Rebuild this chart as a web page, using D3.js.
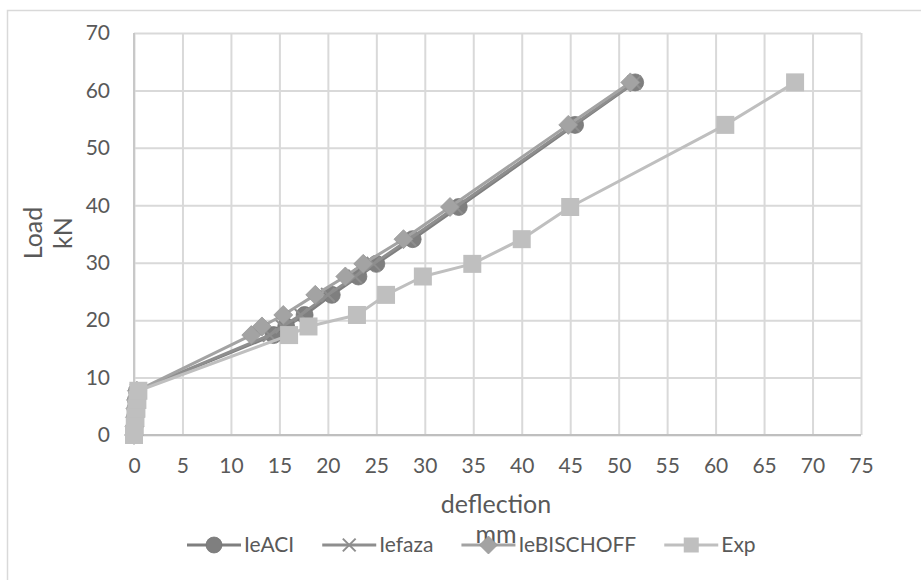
<!DOCTYPE html>
<html>
<head>
<meta charset="utf-8">
<script src="https://cdn.jsdelivr.net/npm/d3@7"></script>
<style>
  html, body { margin: 0; padding: 0; background: #ffffff; }
  svg { display: block; }
  text { font-family: Lato, "Open Sans", sans-serif; fill: #595959; }
</style>
</head>
<body>
<svg id="chart" width="921" height="580"></svg>
<script>
// Load steps (kN) shared by every series
const loads = [0, 1.5, 3.1, 4.6, 6.1, 7.7, 17.4, 18.9, 20.9, 24.4, 27.6, 29.8, 34.1, 39.7, 54.0, 61.4];

// Mid-span deflection (mm) for each method
const deflACI      = [0, 0.05, 0.1, 0.15, 0.2, 0.3, 14.4, 15.7, 17.6, 20.4, 23.15, 25.0, 28.75, 33.5, 45.5, 51.7];
const deflFaza     = [0, 0.05, 0.1, 0.15, 0.2, 0.3, 14.0, 15.3, 17.2, 20.0, 22.8, 24.7, 28.4, 33.2, 45.3, 51.6];
const deflBischoff = [0, 0.05, 0.1, 0.15, 0.2, 0.3, 12.1, 13.2, 15.4, 18.7, 21.8, 23.65, 27.8, 32.6, 44.8, 51.2];
const deflExp      = [0, 0.08, 0.15, 0.25, 0.35, 0.45, 16.0, 18.0, 23.0, 26.0, 29.8, 34.9, 40.0, 45.0, 61.0, 68.2];

const seriesNames = ["IeACI", "Iefaza", "IeBISCHOFF", "Exp"];
const xTickValues = [0, 5, 10, 15, 20, 25, 30, 35, 40, 45, 50, 55, 60, 65, 70, 75];
const yTickValues = [0, 10, 20, 30, 40, 50, 60, 70];

const series = [
  { name: seriesNames[0], x: deflACI,      color: "#7f7f7f", marker: "circle" },
  { name: seriesNames[1], x: deflFaza,     color: "#8e8e8e", marker: "cross" },
  { name: seriesNames[2], x: deflBischoff, color: "#a3a3a3", marker: "diamond" },
  { name: seriesNames[3], x: deflExp,      color: "#bfbfbf", marker: "square" }
];

const svg = d3.select("#chart");
const plot = { left: 134, right: 861, top: 33, bottom: 435 };

const x = d3.scaleLinear().domain([0, 75]).range([plot.left, plot.right]);
const y = d3.scaleLinear().domain([0, 70]).range([plot.bottom, plot.top]);

// chart frame
svg.append("rect")
  .attr("x", 7.5).attr("y", 10.5)
  .attr("width", 1000).attr("height", 1000)
  .attr("fill", "none").attr("stroke", "#d9d9d9").attr("stroke-width", 1.5);

// gridlines + tick labels
const gx = svg.append("g")
  .attr("transform", `translate(0,${plot.bottom})`)
  .call(d3.axisBottom(x).tickValues(xTickValues).tickFormat(d3.format("d"))
        .tickSize(-(plot.bottom - plot.top)).tickPadding(23));
const gy = svg.append("g")
  .attr("transform", `translate(${plot.left},0)`)
  .call(d3.axisLeft(y).tickValues(yTickValues).tickFormat(d3.format("d"))
        .tickSize(-(plot.right - plot.left)).tickPadding(24));

[gx, gy].forEach(g => {
  g.select(".domain").remove();
  g.selectAll(".tick line").attr("stroke", "#d9d9d9").attr("stroke-width", 2);
  g.selectAll(".tick text")
    .style("font-family", "Lato, 'Open Sans', sans-serif")
    .style("font-size", "21px").attr("fill", "#595959");
});

// axis lines
svg.append("line")
  .attr("x1", plot.left).attr("x2", plot.left)
  .attr("y1", plot.top).attr("y2", plot.bottom)
  .attr("stroke", "#c8c8c8").attr("stroke-width", 2);
svg.append("line")
  .attr("x1", plot.left).attr("x2", plot.right)
  .attr("y1", plot.bottom).attr("y2", plot.bottom)
  .attr("stroke", "#bfbfbf").attr("stroke-width", 2);

// axis titles
const xTitle = svg.append("text")
  .attr("text-anchor", "middle").style("font-size", "25px");
xTitle.append("tspan").attr("x", 496).attr("y", 513).text("deflection");
xTitle.append("tspan").attr("x", 496).attr("y", 543).text("mm");

const yTitle = svg.append("g").attr("transform", "translate(0,233)");
yTitle.append("text").attr("transform", "translate(41.5,0) rotate(-90)")
  .attr("text-anchor", "middle").style("font-size", "25px").text("Load");
yTitle.append("text").attr("transform", "translate(72,0) rotate(-90)")
  .attr("text-anchor", "middle").style("font-size", "25px").text("kN");

// marker drawing
function drawMarker(g, type, color, size) {
  const h = size / 2;
  const edge = d3.color(color).darker(0.25);
  if (type === "circle") {
    g.append("circle").attr("r", h).attr("fill", color)
      .attr("stroke", edge).attr("stroke-width", 0.75);
  } else if (type === "diamond") {
    g.append("path").attr("d", `M0,${-h - 1}L${h + 1},0L0,${h + 1}L${-h - 1},0Z`)
      .attr("fill", color).attr("stroke", edge).attr("stroke-width", 0.75);
  } else if (type === "square") {
    g.append("rect").attr("x", -h).attr("y", -h).attr("width", size).attr("height", size)
      .attr("fill", color);
  } else if (type === "cross") {
    const c = h * 0.8;
    g.append("path").attr("d", `M${-c},${-c}L${c},${c}M${-c},${c}L${c},${-c}`)
      .attr("stroke", color).attr("stroke-width", 2).attr("fill", "none");
  }
}

const line = d3.line().x(d => x(d[0])).y(d => y(d[1]));

series.forEach(s => {
  const pts = s.x.map((v, i) => [v, loads[i]]);
  const g = svg.append("g");
  g.append("path").datum(pts).attr("d", line)
    .attr("fill", "none").attr("stroke", s.color).attr("stroke-width", 3)
    .attr("stroke-linejoin", "round");
  pts.forEach(p => {
    const m = g.append("g").attr("transform", `translate(${x(p[0])},${y(p[1])})`);
    drawMarker(m, s.marker, s.color, s.marker === "square" ? 18 : 17);
  });
});

// legend
const legend = svg.append("g").attr("transform", "translate(0,545)");
let cursor = 187;
series.forEach(s => {
  const item = legend.append("g").attr("transform", `translate(${cursor},0)`);
  item.append("line").attr("x1", 0).attr("x2", 54).attr("y1", 0).attr("y2", 0)
    .attr("stroke", s.color).attr("stroke-width", 3);
  const m = item.append("g").attr("transform", "translate(27,0)");
  drawMarker(m, s.marker, s.color, s.marker === "square" ? 15 : 16);
  const t = item.append("text").attr("x", 57).attr("y", 0).attr("dy", "0.35em")
    .style("font-size", "21px").text(s.name);
  cursor += 57 + t.node().getComputedTextLength() + 28;
});
</script>
</body>
</html>
